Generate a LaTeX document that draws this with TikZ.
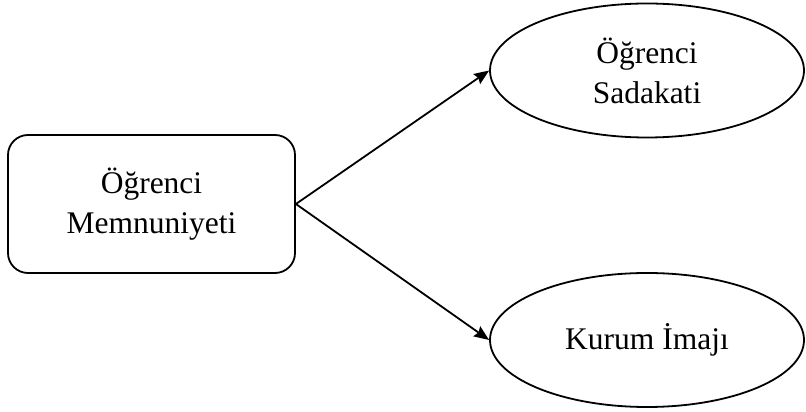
\documentclass[tikz,border=0pt]{standalone}
\usepackage{fontspec}
\setmainfont{Liberation Serif}
\usetikzlibrary{shapes.geometric,arrows.meta}
\begin{document}
\begin{tikzpicture}[x=1pt,y=1pt,
  lbl/.style={font=\fontsize{31.5}{40}\selectfont, align=center, text=black},
  boxnode/.style={lbl, draw=black, line width=1.8pt, rounded corners=20pt,
    minimum width=287pt, minimum height=138pt, inner sep=0pt},
  ellnode/.style={lbl, draw=black, line width=1.8pt, ellipse,
    minimum width=314pt, minimum height=134pt, inner sep=0pt},
  conn/.style={line width=1.8pt, -{Stealth[length=15pt,width=12pt,inset=2pt]}}]
\useasboundingbox (0,0) rectangle (806,412);
\node[boxnode] (mem) at (151.5,208) {Öğrenci\\Memnuniyeti};
\node[ellnode] (sad) at (647,341.5) {Öğrenci\\Sadakati};
\node[ellnode] (kur) at (647,72) {Kurum İmajı};
\draw[conn] (mem.east) -- (sad.west);
\draw[conn] (mem.east) -- (kur.west);
\end{tikzpicture}
\end{document}
